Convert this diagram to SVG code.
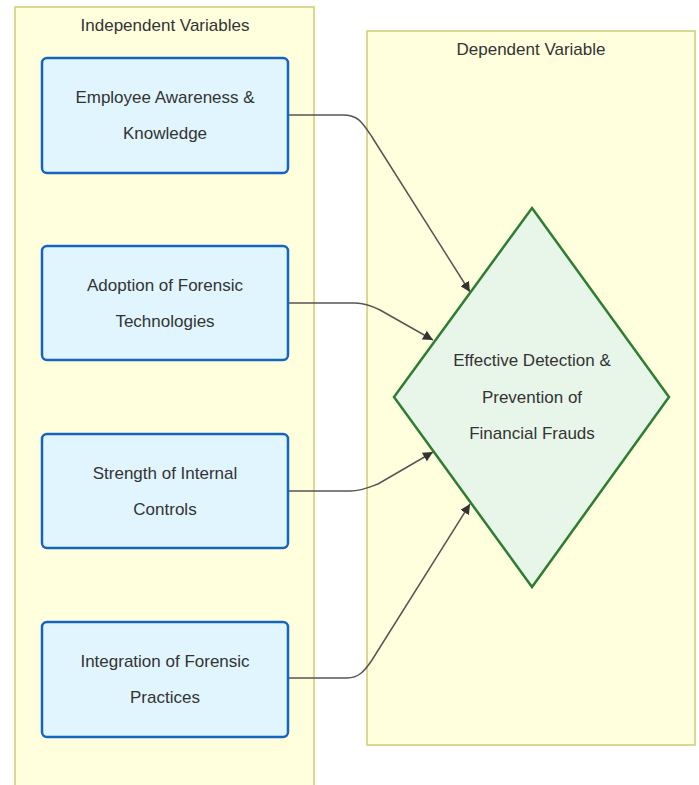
<svg xmlns="http://www.w3.org/2000/svg" width="699" height="785" viewBox="0 0 699 785">
<style>
.cluster{fill:#ffffde;stroke:#cccc77;stroke-width:1.5}
.ctitle{font-family:"Liberation Sans",Arial,sans-serif;font-size:17px;fill:#333;text-anchor:middle}
.node rect{fill:#e1f5fe;stroke:#1565c0;stroke-width:2.5}
.lbl{font-family:"Liberation Sans",Arial,sans-serif;font-size:17px;fill:#333;text-anchor:middle}
.edge{fill:none;stroke:#555;stroke-width:1.5}
</style>
<defs>
<marker id="arr" viewBox="0 0 10 10" refX="10" refY="5" markerWidth="10" markerHeight="10" markerUnits="userSpaceOnUse" orient="auto">
<path d="M0,0 L10,5 L0,10 z" fill="#333"/>
</marker>
</defs>
<rect width="699" height="785" fill="#ffffff"/>
<g id="cluster-independent">
<rect class="cluster" x="15" y="7" width="299" height="800"/>
<text class="ctitle" x="165" y="31">Independent Variables</text>
</g>
<g id="cluster-dependent">
<rect class="cluster" x="367" y="31" width="328" height="714"/>
<text class="ctitle" x="531" y="55">Dependent Variable</text>
</g>
<g id="connectors">
<path class="edge" d="M288,115 L343,115 C358,115 362,122 372,137 L470,292" marker-end="url(#arr)"/>
<path class="edge" d="M288,303 L355,303 C365,303 372,306 380,310 L433,340" marker-end="url(#arr)"/>
<path class="edge" d="M288,491 L350,491 C362,491 370,487 378,484 L433,452" marker-end="url(#arr)"/>
<path class="edge" d="M288,678 L347,678 C358,678 364,672 372,660 L470,504" marker-end="url(#arr)"/>
</g>
<g id="node-awareness" class="node">
<rect x="42" y="58" width="246" height="115" rx="5"/>
<text class="lbl" x="165" y="103">Employee Awareness &amp;</text>
<text class="lbl" x="165" y="139">Knowledge</text>
</g>
<g id="node-technologies" class="node">
<rect x="42" y="246" width="246" height="114" rx="5"/>
<text class="lbl" x="165" y="291">Adoption of Forensic</text>
<text class="lbl" x="165" y="327">Technologies</text>
</g>
<g id="node-controls" class="node">
<rect x="42" y="434" width="246" height="114" rx="5"/>
<text class="lbl" x="165" y="479">Strength of Internal</text>
<text class="lbl" x="165" y="515">Controls</text>
</g>
<g id="node-practices" class="node">
<rect x="42" y="622" width="246" height="115" rx="5"/>
<text class="lbl" x="165" y="667">Integration of Forensic</text>
<text class="lbl" x="165" y="703">Practices</text>
</g>
<g id="node-outcome">
<polygon points="532,208 669,397 532,587 394,397" fill="#e8f5e9" stroke="#2e7d32" stroke-width="2.5"/>
<text class="lbl" x="532" y="366">Effective Detection &amp;</text>
<text class="lbl" x="532" y="403">Prevention of</text>
<text class="lbl" x="532" y="439">Financial Frauds</text>
</g>
</svg>
